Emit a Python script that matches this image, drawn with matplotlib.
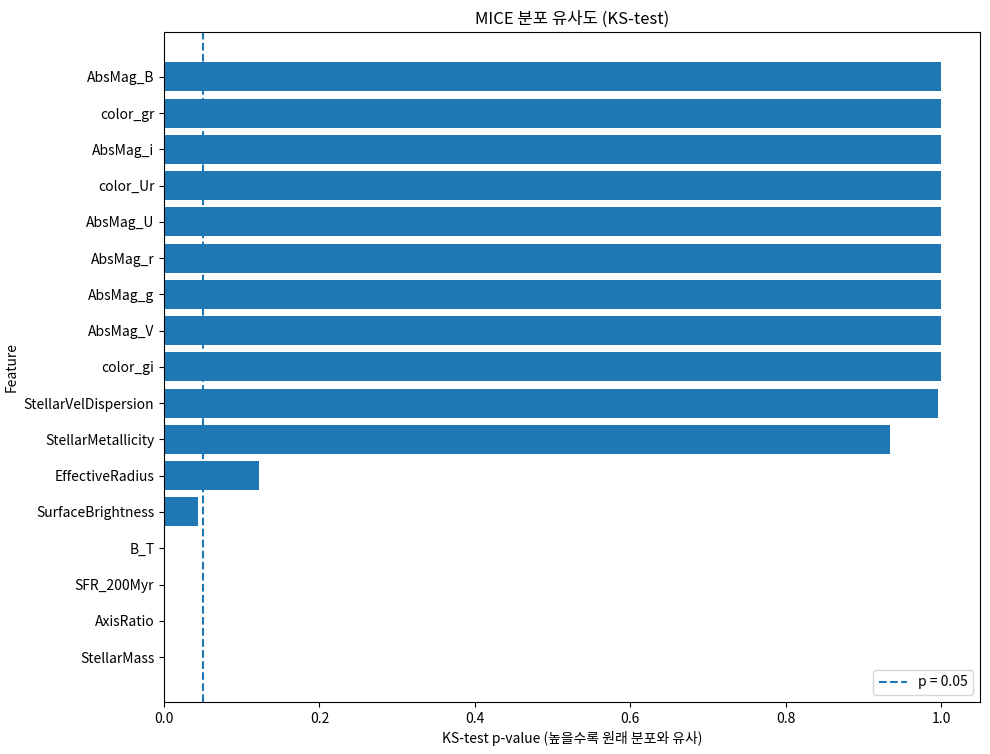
import matplotlib
matplotlib.use("Agg")
import matplotlib.pyplot as plt

plt.rcParams['font.family'] = ['Noto Sans CJK KR', 'DejaVu Sans']
plt.rcParams['axes.unicode_minus'] = False

features = ["StellarMass", "AxisRatio", "SFR_200Myr", "B_T", "SurfaceBrightness",
            "EffectiveRadius", "StellarMetallicity", "StellarVelDispersion",
            "color_gi", "AbsMag_V", "AbsMag_g", "AbsMag_r", "AbsMag_U",
            "color_Ur", "AbsMag_i", "color_gr", "AbsMag_B"]
p_values = [0.0, 0.0, 0.0, 0.0, 0.0438,
            0.122, 0.934, 0.9958,
            1.0, 1.0, 1.0, 1.0, 1.0,
            1.0, 1.0, 1.0, 1.0]
threshold = 0.05

fig, ax = plt.subplots(figsize=(9.9, 7.54), dpi=100)
ax.barh(features, p_values, color="#1f77b4")
ax.axvline(threshold, linestyle="--", color="#1f77b4", label="p = 0.05")
ax.set_xlabel("KS-test p-value (높을수록 원래 분포와 유사)")
ax.set_ylabel("Feature")
ax.set_title("MICE 분포 유사도 (KS-test)")
ax.legend(loc="lower right")
fig.subplots_adjust(left=0.1657, right=0.9899, top=0.9576, bottom=0.069)
plt.savefig("out.png")
